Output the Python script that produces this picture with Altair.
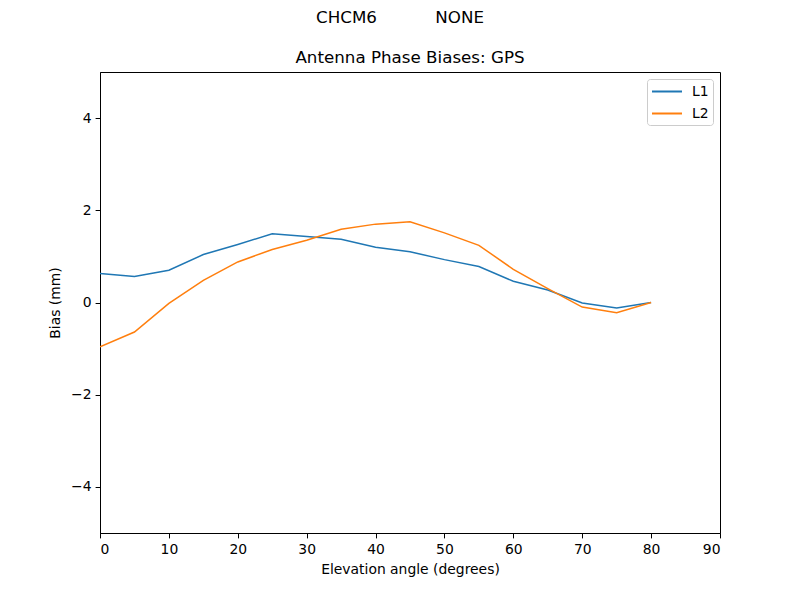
import altair as alt
import pandas as pd

elev = [0, 5, 10, 15, 20, 25, 30, 35, 40, 45, 50, 55, 60, 65, 70, 75, 80]
l1 = [0.63, 0.565, 0.70, 1.04, 1.26, 1.49, 1.43, 1.37, 1.20, 1.10, 0.93, 0.78, 0.46, 0.27, -0.01, -0.12, 0.0]
l2 = [-0.96, -0.64, -0.02, 0.48, 0.88, 1.15, 1.35, 1.59, 1.70, 1.75, 1.51, 1.24, 0.72, 0.30, -0.10, -0.22, 0.0]

rows = []
for e, a, b in zip(elev, l1, l2):
    rows.append({"elev": e, "bias": a, "series": "L1"})
    rows.append({"elev": e, "bias": b, "series": "L2"})
df = pd.DataFrame(rows)

FONT = "DejaVu Sans"
minus = "replace(datum.label, '-', '\u2212')"
NB = "\u00a0"

lines = alt.Chart(df).mark_line(strokeWidth=1.5, clip=True).encode(
    x=alt.X("elev:Q", scale=alt.Scale(domain=[0, 90], nice=False, zero=False),
            axis=alt.Axis(title="Elevation angle (degrees)", values=list(range(0, 91, 10)),
                          format="d", labelExpr=minus, grid=False, domainColor="black",
                          tickColor="black", tickSize=4.9, labelPadding=5, titlePadding=6,
                          labelFont=FONT, labelFontSize=13.9, labelColor="black",
                          titleFont=FONT, titleFontSize=13.9, titleFontWeight="normal",
                          titleColor="black")),
    y=alt.Y("bias:Q", scale=alt.Scale(domain=[-5, 5], nice=False, zero=False),
            axis=alt.Axis(title="Bias (mm)", values=[-4, -2, 0, 2, 4], format="d",
                          labelExpr=minus, grid=False, domainColor="black",
                          tickColor="black", tickSize=4.9, labelPadding=4, titlePadding=8,
                          labelFont=FONT, labelFontSize=13.9, labelColor="black",
                          titleFont=FONT, titleFontSize=13.9, titleFontWeight="normal",
                          titleColor="black")),
    color=alt.Color("series:N",
                    scale=alt.Scale(domain=["L1", "L2"], range=["#1f77b4", "#ff7f0e"]),
                    legend=alt.Legend(title=None, orient="top-right", offset=7,
                                      symbolType="M-1,0H3", symbolStrokeWidth=2,
                                      symbolSize=225, labelOffset=24, labelFont=FONT,
                                      labelFontSize=13.9, labelColor="black",
                                      strokeColor="#cccccc", cornerRadius=3, padding=4,
                                      rowPadding=6, fillColor="white")),
)

titles_df = pd.DataFrame({
    "t": ["CHCM6" + NB * 11 + "NONE", "Antenna Phase Biases: GPS"],
    "px": [300, 310],
    "py": [-54, -14],
})
titles = alt.Chart(titles_df).mark_text(
    font=FONT, fontSize=16.7, color="black", baseline="middle", align="center"
).encode(x=alt.X("px:Q", scale=None), y=alt.Y("py:Q", scale=None), text="t:N")

chart = alt.layer(lines, titles).properties(
    width=620, height=461,
    autosize="none",
    background="white",
    padding={"left": 92, "top": 64, "right": 72, "bottom": 59},
).configure_view(stroke="black", strokeWidth=1, strokeOpacity=1)

chart.save("out.html", embed_options={"renderer": "svg", "actions": False})
